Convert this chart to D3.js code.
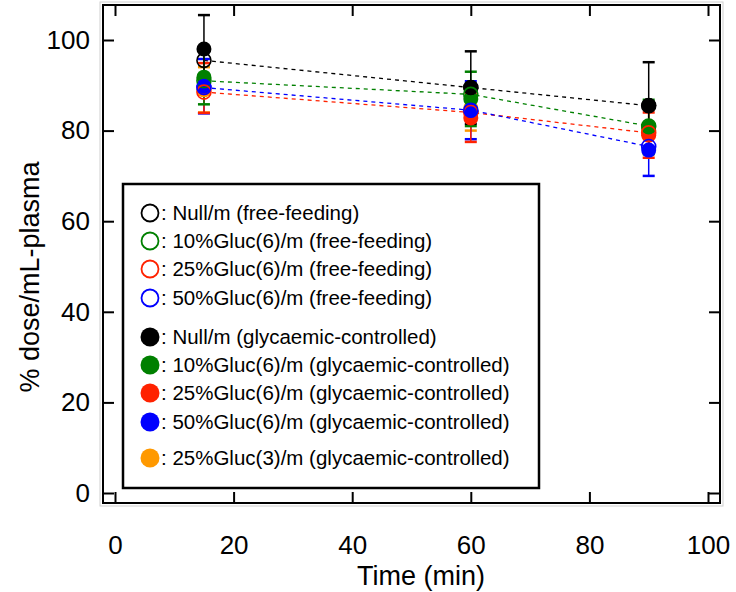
<!DOCTYPE html>
<html>
<head>
<meta charset="utf-8">
<script src="https://cdn.jsdelivr.net/npm/d3@7"></script>
<style>
  body { margin: 0; background: #fff; }
  text { font-family: "Liberation Sans", Arial, sans-serif; fill: #000; }
</style>
</head>
<body>
<svg id="chart" width="736" height="592"></svg>
<script>
// sampling times (min)
const times = [15, 60, 90];

// free-feeding (open markers, dashed lines)
const nullFree = [95.5, 89.5, 85.5];
const gluc10Free = [91.0, 88.0, 81.0];
const gluc25Free = [88.5, 84.0, 79.5];
const gluc50Free = [89.5, 84.5, 76.5];

// glycaemic-controlled (filled markers, error bars)
const nullCtrl = [98.0, 89.5, 85.6];
const nullCtrlErr = [7.5, 8.0, 9.5];
const gluc10Ctrl = [91.8, 87.0, 80.8];
const gluc10CtrlErr = [6.0, 6.0, 6.0];
const gluc25Ctrl = [89.4, 82.8, 79.0];
const gluc25CtrlErr = [5.5, 5.3, 5.0];
const gluc50Ctrl = [89.8, 84.5, 75.7];
const gluc50CtrlErr = [6.0, 6.4, 5.7];
const gluc25c3Ctrl = [89.0, 85.0, 80.0];
const gluc25c3CtrlErr = [5.0, 5.0, 5.0];

const xTicks = [0, 20, 40, 60, 80, 100];
const yTicks = [0, 20, 40, 60, 80, 100];

const openSeries = [
  { name: "Null/m (free-feeding)", color: "#000000", values: nullFree },
  { name: "10%Gluc(6)/m (free-feeding)", color: "#008000", values: gluc10Free },
  { name: "25%Gluc(6)/m (free-feeding)", color: "#ff2200", values: gluc25Free },
  { name: "50%Gluc(6)/m (free-feeding)", color: "#0000ff", values: gluc50Free }
];
const filledSeries = [
  { name: "Null/m (glycaemic-controlled)", color: "#000000", values: nullCtrl, err: nullCtrlErr },
  { name: "10%Gluc(6)/m (glycaemic-controlled)", color: "#008000", values: gluc10Ctrl, err: gluc10CtrlErr },
  { name: "25%Gluc(6)/m (glycaemic-controlled)", color: "#ff2200", values: gluc25Ctrl, err: gluc25CtrlErr },
  { name: "50%Gluc(6)/m (glycaemic-controlled)", color: "#0000ff", values: gluc50Ctrl, err: gluc50CtrlErr },
  { name: "25%Gluc(3)/m (glycaemic-controlled)", color: "#ff9900", values: gluc25c3Ctrl, err: gluc25c3CtrlErr }
];

const svg = d3.select("#chart");
const frame = { left: 103, right: 720, top: 5, bottom: 503 };

const x = d3.scaleLinear().domain([0, 100]).range([115, 708]);
const y = d3.scaleLinear().domain([0, 100]).range([493, 40]);

// outer light frame
svg.append("rect")
  .attr("x", frame.left - 3).attr("y", frame.top - 3)
  .attr("width", frame.right - frame.left + 6).attr("height", frame.bottom - frame.top + 6)
  .attr("fill", "none").attr("stroke", "#cfcfcf").attr("stroke-width", 1);

// axes with inward ticks
const tick = 11;
svg.append("g").attr("transform", `translate(0,${frame.bottom})`)
  .call(d3.axisBottom(x).tickValues(xTicks).tickSize(-tick).tickPadding(tick + 22))
  .call(g => g.select(".domain").remove())
  .call(g => g.selectAll("text").attr("font-size", 26));
svg.append("g").attr("transform", `translate(0,${frame.top})`)
  .call(d3.axisTop(x).tickValues(xTicks).tickSize(-tick).tickFormat(""))
  .call(g => g.select(".domain").remove());
svg.append("g").attr("transform", `translate(${frame.left},0)`)
  .call(d3.axisLeft(y).tickValues(yTicks).tickSize(-tick).tickPadding(tick + 2))
  .call(g => g.select(".domain").remove())
  .call(g => g.selectAll("text").attr("font-size", 26));
svg.append("g").attr("transform", `translate(${frame.right},0)`)
  .call(d3.axisRight(y).tickValues(yTicks).tickSize(-tick).tickFormat(""))
  .call(g => g.select(".domain").remove());
svg.selectAll(".tick line").attr("stroke", "#000").attr("stroke-width", 2);

svg.append("rect")
  .attr("x", frame.left).attr("y", frame.top)
  .attr("width", frame.right - frame.left).attr("height", frame.bottom - frame.top)
  .attr("fill", "none").attr("stroke", "#000").attr("stroke-width", 2);

// axis titles
svg.append("text")
  .attr("x", 421).attr("y", 585)
  .attr("text-anchor", "middle").attr("font-size", 27)
  .text("Time (min)");
svg.append("text")
  .attr("transform", "translate(39,277) rotate(-90)")
  .attr("text-anchor", "middle").attr("font-size", 27)
  .text("% dose/mL-plasma");

// dashed lines for free-feeding series
const line = d3.line().x((d, i) => x(times[i])).y(d => y(d));
svg.append("g").selectAll("path")
  .data(openSeries)
  .join("path")
  .attr("d", d => line(d.values))
  .attr("fill", "none")
  .attr("stroke", d => d.color)
  .attr("stroke-width", 1.3)
  .attr("stroke-dasharray", "4,4");

// error bars (glycaemic-controlled), black drawn last
const errG = svg.append("g");
filledSeries.slice().reverse().forEach(s => {
  s.values.forEach((v, i) => {
    const cx = x(times[i]);
    const lo = y(v - s.err[i]), hi = y(v + s.err[i]);
    const g = errG.append("g").attr("stroke", s.color).attr("stroke-width", 1.5);
    g.append("line").attr("x1", cx).attr("x2", cx).attr("y1", lo).attr("y2", hi);
    g.append("line").attr("x1", cx - 6).attr("x2", cx + 6).attr("y1", lo).attr("y2", lo).attr("stroke-width", 2.5);
    g.append("line").attr("x1", cx - 6).attr("x2", cx + 6).attr("y1", hi).attr("y2", hi).attr("stroke-width", 2.5);
  });
});

// filled markers
const fillOrder = [4, 2, 1, 3, 0];
fillOrder.forEach(k => {
  const s = filledSeries[k];
  svg.append("g").selectAll("circle")
    .data(s.values)
    .join("circle")
    .attr("cx", (d, i) => x(times[i]))
    .attr("cy", d => y(d))
    .attr("r", 7.5)
    .attr("fill", s.color);
});

// open markers
openSeries.forEach(s => {
  svg.append("g").selectAll("circle")
    .data(s.values)
    .join("circle")
    .attr("cx", (d, i) => x(times[i]))
    .attr("cy", d => y(d))
    .attr("r", 7)
    .attr("fill", "none")
    .attr("stroke", s.color)
    .attr("stroke-width", 1.6);
});

// legend
const legend = svg.append("g");
legend.append("rect")
  .attr("x", 123).attr("y", 184).attr("width", 416).attr("height", 304)
  .attr("fill", "#fff").attr("stroke", "#000").attr("stroke-width", 2.5);

const rowsY = [213, 241, 269, 298, 337, 365, 393, 422, 458];
const legendItems = openSeries.map(s => ({ ...s, open: true }))
  .concat(filledSeries.map(s => ({ ...s, open: false })));

legendItems.forEach((s, i) => {
  const ry = rowsY[i];
  legend.append("circle")
    .attr("cx", 150).attr("cy", ry)
    .attr("r", s.open ? 8.5 : 9.5)
    .attr("fill", s.open ? "#fff" : s.color)
    .attr("stroke", s.open ? s.color : "none")
    .attr("stroke-width", 1.8);
  legend.append("text")
    .attr("x", 161).attr("y", ry + 7)
    .attr("font-size", 20.5)
    .text(": " + s.name);
});
</script>
</body>
</html>
